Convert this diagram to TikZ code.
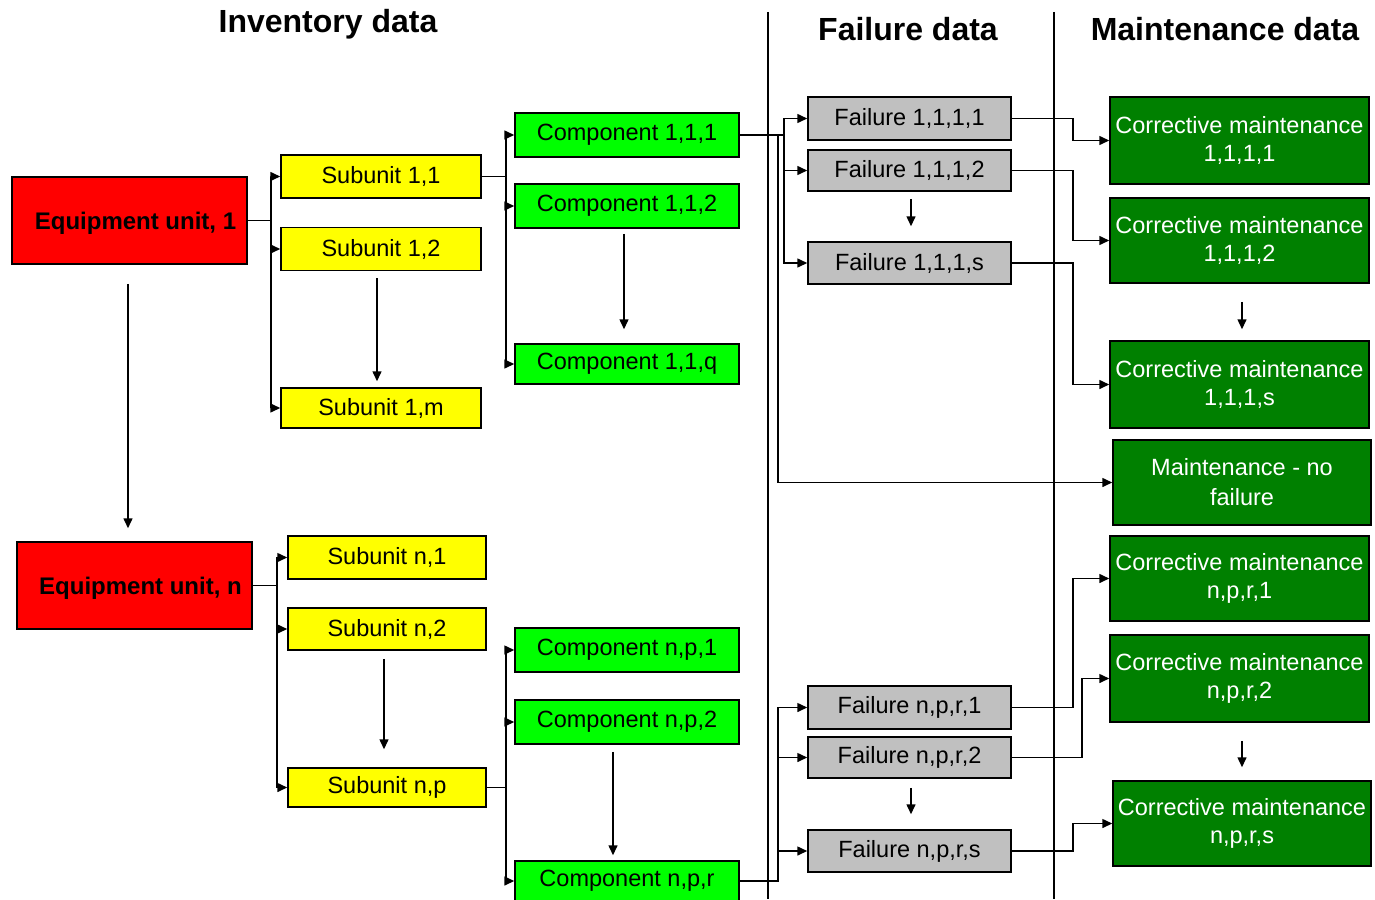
\documentclass[tikz,border=0pt]{standalone}
\usepackage{fontspec}
\setmainfont{Liberation Sans}
\usepackage{xcolor}
\usetikzlibrary{positioning, calc, arrows.meta}
\definecolor{UnitRed}{RGB}{255,0,0}
\definecolor{SubYellow}{RGB}{255,255,0}
\definecolor{CompGreen}{RGB}{0,255,0}
\definecolor{FailGrey}{RGB}{192,192,192}
\definecolor{MaintGreen}{RGB}{0,128,0}
\tikzset{
    basebox/.style={
        draw, line width=1.5pt, inner sep=0pt, anchor=center, font=\fontsize{23.5}{28}\selectfont
    },
    unitbox/.style={
        basebox, fill=UnitRed, minimum width=235pt, minimum height=87pt, font=\fontsize{24}{28}\selectfont\bfseries
    },
    subbox/.style={
        basebox, fill=SubYellow, minimum width=200pt, minimum height=43pt
    },
    compbox/.style={
        basebox, fill=CompGreen, minimum width=224pt, minimum height=44pt
    },
    failbox/.style={
        basebox, fill=FailGrey, minimum width=203pt, minimum height=43pt
    },
    maintbox/.style={
        basebox, fill=MaintGreen, text=white, align=center, minimum width=259pt, minimum height=87pt
    },
    header/.style={
        font=\fontsize{32}{36}\selectfont\bfseries
    },
    ptr/.style={
        -{Triangle[length=10pt,width=9pt]}, line width=1.5pt
    },
    divider/.style={
        line width=1.6pt
    }
}
\begin{document}
\begin{tikzpicture}[x=1pt, y=-1pt]
    \useasboundingbox (0,0) rectangle (1375,899);

    % --- headings and column dividers ---
    \node[header] (hinv) at (328,24) {Inventory data};
    \node[header] (hfail) at (908,29) {Failure data};
    \node[header] (hmaint) at (1225,29) {Maintenance data};
    \draw[divider] (768,12) -- (768,899);
    \draw[divider] (1054,12) -- (1054,899);

    % --- inventory data ---
    \node[unitbox, text depth=0pt, text height=17pt] (eq1) at (129.5,220.5) {\hspace{12pt}Equipment unit, 1};
    \node[unitbox, text depth=0pt, text height=17pt] (eqn) at (134.5,585.5) {\hspace{12pt}Equipment unit, n};

    \node[subbox] (s11) at (381,176.5) {Subunit 1,1};
    \node[subbox] (s12) at (381,249) {Subunit 1,2};
    \node[subbox, minimum height=40pt] (s1m) at (381,408) {Subunit 1,m};
    \node[subbox, minimum width=198pt] (sn1) at (387,557.5) {Subunit n,1};
    \node[subbox, minimum width=198pt, minimum height=42pt] (sn2) at (387,629) {Subunit n,2};
    \node[subbox, minimum width=198pt, minimum height=39pt] (snp) at (387,787.5) {Subunit n,p};

    \node[compbox] (c111) at (627,135) {Component 1,1,1};
    \node[compbox] (c112) at (627,206) {Component 1,1,2};
    \node[compbox, minimum height=40pt] (c11q) at (627,364) {Component 1,1,q};
    \node[compbox] (cnp1) at (627,650) {Component n,p,1};
    \node[compbox] (cnp2) at (627,722) {Component n,p,2};
    \node[compbox, minimum height=40pt] (cnpr) at (627,881) {Component n,p,r};

    % --- failure data ---
    \node[failbox] (f1) at (909.5,118.5) {Failure 1,1,1,1};
    \node[failbox, minimum height=41pt] (f2) at (909.5,170.5) {Failure 1,1,1,2};
    \node[failbox, minimum height=42pt] (fs) at (909.5,263) {Failure 1,1,1,s};
    \node[failbox] (fn1) at (909.5,707.5) {Failure n,p,r,1};
    \node[failbox, minimum height=41pt] (fn2) at (909.5,757.5) {Failure n,p,r,2};
    \node[failbox, minimum height=42pt] (fns) at (909.5,851) {Failure n,p,r,s};

    % --- maintenance data ---
    \node[maintbox] (m1) at (1239.5,140.5) {Corrective maintenance\\1,1,1,1};
    \node[maintbox, minimum height=85pt] (m2) at (1239.5,240.5) {Corrective maintenance\\1,1,1,2};
    \node[maintbox] (ms) at (1239.5,384.5) {Corrective maintenance\\1,1,1,s};
    \node[maintbox, minimum width=258pt, minimum height=85pt, font=\fontsize{23.5}{30}\selectfont] (mnf) at (1242,482.5) {Maintenance - no\\failure};
    \node[maintbox, minimum height=85pt] (mn1) at (1239.5,578.5) {Corrective maintenance\\n,p,r,1};
    \node[maintbox] (mn2) at (1239.5,678.5) {Corrective maintenance\\n,p,r,2};
    \node[maintbox, minimum width=258pt, minimum height=85pt] (mns) at (1242,823.5) {Corrective maintenance\\n,p,r,s};

    % --- branching connectors ---
    \foreach \t in {s11,s12,s1m} \draw[ptr] (eq1.east) -- ++(23,0) |- (\t.west);
    \foreach \t in {sn1,sn2,snp} \draw[ptr] (eqn.east) -- ++(24,0) |- (\t.west);
    \foreach \t in {c111,c112,c11q} \draw[ptr] (s11.east) -- ++(24,0) |- (\t.west);
    \foreach \t in {cnp1,cnp2,cnpr} \draw[ptr] (snp.east) -- ++(19,0) |- (\t.west);
    \foreach \t in {f1,f2,fs} \draw[ptr] (c111.east) -- ++(44,0) |- (\t.west);
    \draw[ptr] (c111.east) -- ++(38,0) |- (mnf.west);
    \foreach \t in {fn1,fn2,fns} \draw[ptr] (cnpr.east) -- ++(38,0) |- (\t.west);

    \draw[ptr] (f1.east) -- ++(61,0) |- (m1.west);
    \draw[ptr] (f2.east) -- ++(61,0) |- (m2.west);
    \draw[ptr] (fs.east) -- ++(61,0) |- (ms.west);
    \draw[ptr] (fn1.east) -- ++(61,0) |- (mn1.west);
    \draw[ptr] (fn2.east) -- ++(70,0) |- (mn2.west);
    \draw[ptr] (fns.east) -- ++(61,0) |- (mns.west);

    % --- "and so on" arrows ---
    \draw[ptr, shorten <=19pt, shorten >=13pt] ([xshift=-1.5pt]eq1.south) -- ([xshift=-1.5pt]eq1.south |- eqn.north);
    \draw[ptr, shorten <=7pt, shorten >=6pt] ([xshift=-4pt]s12.south) -- ([xshift=-4pt]s1m.north);
    \draw[ptr, shorten <=5pt, shorten >=14pt] ([xshift=-3pt]c112.south) -- ([xshift=-3pt]c11q.north);
    \draw[ptr, shorten <=7pt, shorten >=15pt] ([xshift=1.5pt]f2.south) -- ([xshift=1.5pt]fs.north);
    \draw[ptr, shorten <=18pt, shorten >=11pt] ([xshift=2.5pt]m2.south) -- ([xshift=2.5pt]ms.north);
    \draw[ptr, shorten <=8pt, shorten >=18pt] ([xshift=-3pt]sn2.south) -- ([xshift=-3pt]snp.north);
    \draw[ptr, shorten <=7pt, shorten >=5pt] ([xshift=-14pt]cnp2.south) -- ([xshift=-14pt]cnpr.north);
    \draw[ptr, shorten <=9pt, shorten >=15pt] ([xshift=1.5pt]fn2.south) -- ([xshift=1.5pt]fns.north);
    \draw[ptr, shorten <=18pt, shorten >=13pt] ([xshift=2.5pt]mn2.south) -- ([xshift=2.5pt]mn2.south |- mns.north);
\end{tikzpicture}
\end{document}
